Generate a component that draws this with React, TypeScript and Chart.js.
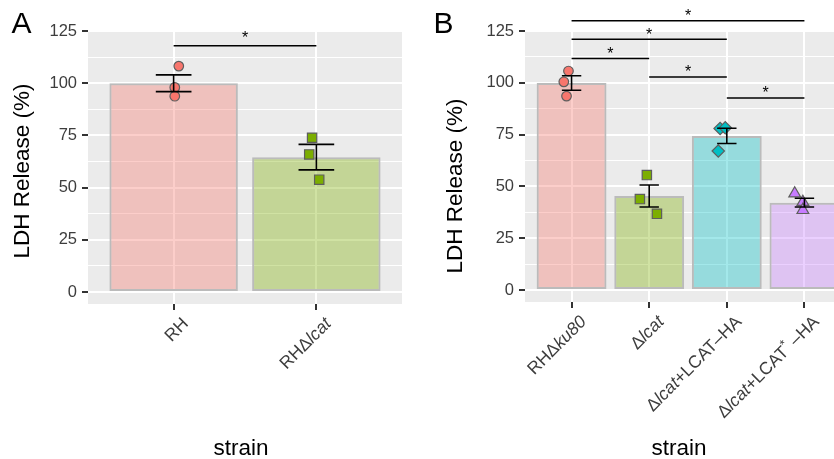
import React, { useEffect, useRef } from "react";
import { Chart, registerables } from "chart.js";

Chart.register(...registerables);

// ---------------- data ----------------
const categoriesA = ["RH", "RHΔlcat"];
const barMeansA = [100, 64.6];
const barSeA = [4.0, 6.1];
const pointsA = [
  [108.2, 98.0, 93.8],
  [73.9, 65.9, 53.8],
];
const jitterA = [
  [0.036, 0.008, 0.008],
  [-0.03, -0.05, 0.02],
];
const sigA = [[0, 1, 118]]; // [from, to, y]

const categoriesB = ["RHΔku80", "Δlcat", "Δlcat+LCAT–HA", "Δlcat+LCAT*–HA"];
const barMeansB = [99.9, 45.4, 74.4, 42.2];
const barSeB = [3.5, 5.3, 3.7, 2.1];
const pointsB = [
  [105.7, 100.5, 93.6],
  [55.5, 43.9, 36.8],
  [78.0, 78.3, 67.1],
  [46.6, 42.5, 38.6],
];
const jitterB = [
  [-0.04, -0.1, -0.065],
  [-0.03, -0.12, 0.1],
  [-0.086, -0.02, -0.11],
  [-0.125, -0.02, -0.02],
];
const sigB = [
  [0, 3, 130],
  [0, 2, 121],
  [0, 1, 111.8],
  [1, 2, 102.8],
  [2, 3, 92.7],
];

const yMajorTicks = [0, 25, 50, 75, 100, 125];
const yMinorTicks = [12.5, 37.5, 62.5, 87.5, 112.5];

// ---------------- style ----------------
const FAMILY = "'Liberation Sans', Arial, Helvetica, sans-serif";
const PANEL_BG = "#EBEBEB";
const hueColors = ["#F8766D", "#7CAE00", "#00BFC4", "#C77CFF"];
const shapesA = ["circle", "rect"];
const shapesB = ["circle", "rect", "rectRot", "triangle"];
const shapeRadius: any = { circle: 4.8, rect: 6.6, rectRot: 6.2, triangle: 6.8 };
const Y_MIN = -5.75;
const Y_MAX = 125.5;
const CANVAS_H = 459;

function hexToRgba(hex: string, a: number) {
  const n = parseInt(hex.slice(1), 16);
  return `rgba(${(n >> 16) & 255},${(n >> 8) & 255},${n & 255},${a})`;
}

const ITALIC_WORDS = /(ku80|lcat|\*)/;

function drawRichLabel(ctx: any, text: string, ax: number, ay: number, size: number) {
  const parts = text
    .split(ITALIC_WORDS)
    .filter((s) => s.length > 0)
    .map((t) => ({
      t,
      style: t === "*" ? "sup" : t === "ku80" || t === "lcat" ? "i" : "n",
    }));
  const fontFor = (st: string) =>
    st === "i"
      ? `italic ${size}px ${FAMILY}`
      : st === "sup"
      ? `${size * 0.72}px ${FAMILY}`
      : `${size}px ${FAMILY}`;
  const widths = parts.map((p) => {
    ctx.font = fontFor(p.style);
    return ctx.measureText(p.t).width + (p.style === "sup" ? size * 0.25 : 0);
  });
  const total = widths.reduce((a, b) => a + b, 0);
  ctx.save();
  ctx.translate(ax, ay);
  ctx.rotate(-Math.PI / 4);
  ctx.textBaseline = "alphabetic";
  ctx.textAlign = "left";
  ctx.fillStyle = "#3D3D3D";
  let x = -total;
  const base = size * 0.9;
  parts.forEach((p, i) => {
    ctx.font = fontFor(p.style);
    const y = p.style === "sup" ? base - size * 0.38 : base;
    ctx.fillText(p.t, x, y);
    x += widths[i];
  });
  ctx.restore();
}

function buildChart(canvas: HTMLCanvasElement, cfg: any) {
  const n = cfg.categories.length;
  const colors = hueColors.slice(0, n === 2 ? 2 : 4);

  const barData = cfg.means.map((m: number, i: number) => ({ x: i + 1, y: m }));
  const scatterSets = cfg.points.map((vals: number[], i: number) => ({
    type: "scatter",
    data: vals.map((v, j) => ({ x: i + 1 + cfg.jitter[i][j], y: v })),
    pointStyle: cfg.shapes[i],
    pointRadius: shapeRadius[cfg.shapes[i]],
    pointHoverRadius: shapeRadius[cfg.shapes[i]],
    backgroundColor: colors[i],
    borderColor: "#5E5E5E",
    borderWidth: 1.2,
    order: 0,
  }));

  const panelPlugin = {
    id: "panelDecor",
    beforeDraw(chart: any) {
      const { ctx, chartArea: a } = chart;
      ctx.save();
      ctx.fillStyle = "#FFFFFF";
      ctx.fillRect(0, 0, chart.width, chart.height);
      ctx.fillStyle = PANEL_BG;
      ctx.fillRect(a.left, a.top, a.right - a.left, a.bottom - a.top);
      ctx.restore();
    },
    afterDatasetsDraw(chart: any) {
      const { ctx } = chart;
      const xs = chart.scales.x;
      const ys = chart.scales.y;
      ctx.save();
      ctx.strokeStyle = "#000000";
      ctx.lineWidth = 1.6;
      cfg.means.forEach((m: number, i: number) => {
        const se = cfg.se[i];
        const xc = xs.getPixelForValue(i + 1);
        const xl = xs.getPixelForValue(i + 1 - 0.125);
        const xr = xs.getPixelForValue(i + 1 + 0.125);
        const yh = ys.getPixelForValue(m + se);
        const yl = ys.getPixelForValue(m - se);
        ctx.beginPath();
        ctx.moveTo(xc, yh);
        ctx.lineTo(xc, yl);
        ctx.moveTo(xl, yh);
        ctx.lineTo(xr, yh);
        ctx.moveTo(xl, yl);
        ctx.lineTo(xr, yl);
        ctx.stroke();
      });
      ctx.restore();
    },
    afterDraw(chart: any) {
      const { ctx, chartArea: a } = chart;
      const xs = chart.scales.x;
      const ys = chart.scales.y;
      ctx.save();
      // significance brackets
      ctx.strokeStyle = "#000000";
      ctx.fillStyle = "#000000";
      ctx.lineWidth = 1.5;
      ctx.font = `16px ${FAMILY}`;
      ctx.textAlign = "center";
      ctx.textBaseline = "middle";
      cfg.sig.forEach((s: number[]) => {
        const x1 = xs.getPixelForValue(s[0] + 1);
        const x2 = xs.getPixelForValue(s[1] + 1);
        const y = ys.getPixelForValue(s[2]);
        ctx.beginPath();
        ctx.moveTo(x1, y);
        ctx.lineTo(x2, y);
        ctx.stroke();
        ctx.fillText("*", (x1 + x2) / 2, y - cfg.starGap + 3);
      });
      // x tick labels
      cfg.categories.forEach((c: string, i: number) => {
        const x = xs.getPixelForValue(i + 1);
        drawRichLabel(ctx, c, x + 4.5, a.bottom + 9.5, 17.5);
      });
      // axis titles
      ctx.fillStyle = "#000000";
      ctx.font = `22.5px ${FAMILY}`;
      ctx.textAlign = "center";
      ctx.textBaseline = "alphabetic";
      ctx.fillText("strain", cfg.xTitle.x, cfg.xTitle.y);
      ctx.save();
      ctx.translate(cfg.yTitle.x, cfg.yTitle.y);
      ctx.rotate(-Math.PI / 2);
      ctx.textBaseline = "middle";
      ctx.fillText("LDH Release (%)", 0, 0);
      ctx.restore();
      // panel tag
      ctx.font = `30px ${FAMILY}`;
      ctx.textAlign = "left";
      ctx.textBaseline = "alphabetic";
      ctx.fillText(cfg.tag, cfg.tagPos.x, cfg.tagPos.y);
      ctx.restore();
    },
  };

  return new Chart(canvas, {
    type: "bar",
    data: {
      datasets: [
        {
          type: "bar",
          data: barData,
          backgroundColor: colors.map((c) => hexToRgba(c, 0.36)),
          borderColor: "#BBBBBB",
          borderWidth: 2,
          borderSkipped: false,
          categoryPercentage: 1,
          barPercentage: 0.9,
          order: 1,
        } as any,
        ...scatterSets,
      ],
    },
    options: {
      animation: false,
      responsive: false,
      devicePixelRatio: 1,
      events: [],
      layout: { padding: { top: 30, right: cfg.padRight, left: 0, bottom: 0 } },
      plugins: { legend: { display: false }, tooltip: { enabled: false }, title: { display: false } },
      scales: {
        x: {
          type: "linear",
          offset: false,
          min: 0.4,
          max: n + 0.6,
          afterBuildTicks: (s: any) => {
            s.ticks = cfg.categories.map((_: string, i: number) => ({ value: i + 1 }));
          },
          afterFit: (s: any) => {
            s.height = cfg.xAxisHeight;
          },
          ticks: { display: false },
          grid: {
            offset: false,
            color: "#FFFFFF",
            lineWidth: 2,
            tickColor: "#333333",
            tickWidth: 2,
            tickLength: 6,
            drawTicks: true,
          },
          border: { display: false },
        },
        y: {
          type: "linear",
          min: Y_MIN,
          max: Y_MAX,
          afterBuildTicks: (s: any) => {
            s.ticks = [...yMajorTicks, ...yMinorTicks]
              .sort((p, q) => p - q)
              .map((v) => ({ value: v }));
          },
          afterFit: (s: any) => {
            s.width = cfg.yAxisWidth;
          },
          ticks: {
            autoSkip: false,
            padding: 5,
            color: "#3D3D3D",
            font: { family: FAMILY, size: 16.5 },
            callback: (v: any) => (yMajorTicks.includes(Number(v)) ? String(v) : ""),
          },
          grid: {
            color: "#FFFFFF",
            lineWidth: (c: any) => (yMajorTicks.includes(c.tick.value) ? 2 : 1),
            tickColor: (c: any) =>
              yMajorTicks.includes(c.tick.value) ? "#333333" : "rgba(0,0,0,0)",
            tickWidth: 2,
            tickLength: 6,
          },
          border: { display: false },
        },
      },
    } as any,
    plugins: [panelPlugin],
  });
}

const panelA = {
  categories: categoriesA,
  means: barMeansA,
  se: barSeA,
  points: pointsA,
  jitter: jitterA,
  sig: sigA,
  shapes: shapesA,
  tag: "A",
  width: 414,
  left: 0,
  yAxisWidth: 88,
  padRight: 12,
  xAxisHeight: 155,
  yTitle: { x: 22.5, y: 171 },
  xTitle: { x: 241, y: 455 },
  tagPos: { x: 11.5, y: 33.3 },
  starGap: 10.5,
};

const panelB = {
  categories: categoriesB,
  means: barMeansB,
  se: barSeB,
  points: pointsB,
  jitter: jitterB,
  sig: sigB,
  shapes: shapesB,
  tag: "B",
  width: 460,
  left: 414,
  yAxisWidth: 111,
  padRight: 23,
  xAxisHeight: 157,
  yTitle: { x: 42, y: 186 },
  xTitle: { x: 265, y: 455 },
  tagPos: { x: 19.5, y: 33.3 },
  starGap: 7,
};

function Panel({ cfg }: { cfg: any }) {
  const ref = useRef<HTMLCanvasElement | null>(null);
  useEffect(() => {
    if (!ref.current) return;
    const chart = buildChart(ref.current, cfg);
    return () => chart.destroy();
  }, [cfg]);
  return (
    <canvas
      ref={ref}
      width={cfg.width}
      height={CANVAS_H}
      style={{
        position: "absolute",
        left: cfg.left,
        top: 0,
        width: cfg.width,
        height: CANVAS_H,
      }}
    />
  );
}

export default function App() {
  return (
    <div
      style={{
        position: "fixed",
        left: 0,
        top: 0,
        width: 834,
        height: CANVAS_H,
        overflow: "hidden",
        background: "#FFFFFF",
      }}
    >
      <Panel cfg={panelA} />
      <Panel cfg={panelB} />
    </div>
  );
}
